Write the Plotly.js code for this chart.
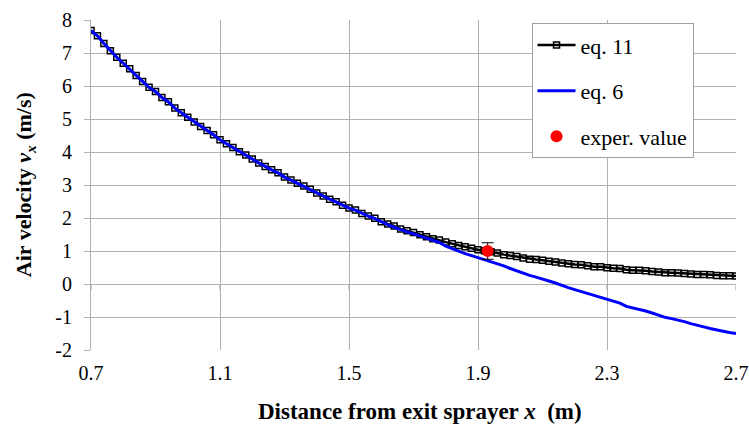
<!DOCTYPE html>
<html>
<head>
<meta charset="utf-8">
<script src="https://cdn.plot.ly/plotly-3.0.1.min.js"></script>
<style>
html,body{margin:0;padding:0;background:#fff;}
#chart{width:749px;height:439px;}
</style>
</head>
<body>
<div id="chart"></div>
<script>
// x positions (m), step 0.02 from 0.70 to 2.70
const distance = [
0.70,0.72,0.74,0.76,0.78,0.80,0.82,0.84,0.86,0.88,
0.90,0.92,0.94,0.96,0.98,1.00,1.02,1.04,1.06,1.08,
1.10,1.12,1.14,1.16,1.18,1.20,1.22,1.24,1.26,1.28,
1.30,1.32,1.34,1.36,1.38,1.40,1.42,1.44,1.46,1.48,
1.50,1.52,1.54,1.56,1.58,1.60,1.62,1.64,1.66,1.68,
1.70,1.72,1.74,1.76,1.78,1.80,1.82,1.84,1.86,1.88,
1.90,1.92,1.94,1.96,1.98,2.00,2.02,2.04,2.06,2.08,
2.10,2.12,2.14,2.16,2.18,2.20,2.22,2.24,2.26,2.28,
2.30,2.32,2.34,2.36,2.38,2.40,2.42,2.44,2.46,2.48,
2.50,2.52,2.54,2.56,2.58,2.60,2.62,2.64,2.66,2.68,
2.70];

// eq. 11 (m/s)
const eq11 = [
7.68,7.52,7.29,7.07,6.87,6.69,6.52,6.32,6.14,5.96,
5.83,5.65,5.52,5.33,5.19,5.05,4.91,4.77,4.65,4.52,
4.37,4.25,4.14,4.01,3.91,3.79,3.67,3.56,3.46,3.37,
3.24,3.15,3.05,2.97,2.87,2.76,2.67,2.57,2.49,2.39,
2.30,2.24,2.14,2.06,1.99,1.89,1.82,1.76,1.67,1.61,
1.56,1.49,1.43,1.37,1.33,1.27,1.22,1.17,1.13,1.08,
1.04,1.01,0.98,0.94,0.89,0.86,0.83,0.79,0.75,0.74,
0.72,0.69,0.67,0.64,0.61,0.59,0.58,0.55,0.52,0.52,
0.49,0.48,0.47,0.43,0.42,0.42,0.40,0.38,0.36,0.34,
0.34,0.33,0.32,0.30,0.29,0.29,0.28,0.26,0.25,0.25,
0.24];

// eq. 6 (m/s)
const eq6 = [
7.68,7.52,7.29,7.07,6.87,6.69,6.52,6.32,6.14,5.96,
5.83,5.65,5.52,5.33,5.19,5.05,4.91,4.77,4.65,4.52,
4.37,4.25,4.14,4.01,3.91,3.79,3.67,3.56,3.46,3.37,
3.24,3.15,3.05,2.97,2.87,2.76,2.67,2.57,2.49,2.39,
2.30,2.24,2.14,2.06,1.98,1.88,1.80,1.72,1.64,1.58,
1.52,1.45,1.38,1.32,1.26,1.15,1.07,1.00,0.92,0.86,
0.80,0.72,0.67,0.60,0.55,0.47,0.40,0.31,0.26,0.21,
0.14,0.09,0.03,-0.05,-0.11,-0.17,-0.23,-0.30,-0.35,-0.42,
-0.48,-0.53,-0.58,-0.68,-0.72,-0.77,-0.82,-0.88,-0.95,-1.01,
-1.05,-1.09,-1.14,-1.20,-1.26,-1.30,-1.35,-1.38,-1.43,-1.47,
-1.50];

// experimental value
const experX = [1.93];
const experY = [1.0];
const experErr = [0.25];

// tick labels
const xTickVals = [0.7, 1.1, 1.5, 1.9, 2.3, 2.7];
const xTickText = ['0.7', '1.1', '1.5', '1.9', '2.3', '2.7'];
const yTickVals = [-2, -1, 0, 1, 2, 3, 4, 5, 6, 7, 8];
const yTickText = ['-2', '-1', '0', '1', '2', '3', '4', '5', '6', '7', '8'];

const xTitle = '<b>Distance from exit sprayer <i>x</i>  (m)</b>';
const yTitle = '<b>Air velocity <i>v<sub>x</sub></i> (m/s)</b>';

const FONT = 'Liberation Serif';
const GRID = '#b0b0b0';

const traces = [
  {
    x: distance, y: eq11, name: 'eq. 11', type: 'scatter', mode: 'lines+markers',
    line: {color: '#000000', width: 2.5},
    marker: {symbol: 'square-open', size: 6, color: '#000000', line: {width: 1.5, color: '#000000'}},
    legendgroup: 'a'
  },
  {
    x: distance, y: eq6, name: 'eq. 6', type: 'scatter', mode: 'lines',
    line: {color: '#0000ff', width: 3},
    legendgroup: 'b'
  },
  {
    x: experX, y: experY, name: 'exper. value', type: 'scatter', mode: 'markers',
    marker: {symbol: 'circle', size: 12, color: '#ff0000'},
    error_y: {type: 'data', array: experErr, visible: true, color: '#000000', thickness: 1, width: 6},
    legendgroup: 'c'
  }
];

// small tick marks on the horizontal axis crossing at y = 0
const zeroTicks = xTickVals.map(v => ({
  type: 'line', xref: 'x', yref: 'y', x0: v, x1: v, y0: 0, y1: -0.18,
  line: {color: '#909090', width: 1}, layer: 'below'
}));

const layout = {
  width: 749, height: 439,
  margin: {l: 91, r: 13, t: 20, b: 89},
  paper_bgcolor: '#ffffff', plot_bgcolor: '#ffffff',
  showlegend: true,
  legend: {
    x: 0.683, y: 0.99, xanchor: 'left', yanchor: 'top',
    bgcolor: '#ffffff', bordercolor: '#a0a0a0', borderwidth: 1,
    font: {family: FONT, size: 22, color: '#000000'},
    traceorder: 'grouped', tracegroupgap: 14, itemwidth: 38
  },
  xaxis: {
    range: [0.7, 2.7], tickvals: xTickVals, ticktext: xTickText,
    showgrid: true, gridcolor: GRID, gridwidth: 1,
    zeroline: false, showline: false, ticks: '',
    ticklabelstandoff: 9,
    tickfont: {family: FONT, size: 20, color: '#000000'},
    automargin: false
  },
  yaxis: {
    range: [-2, 8], tickvals: yTickVals, ticktext: yTickText,
    showgrid: true, gridcolor: GRID, gridwidth: 1,
    zeroline: false, showline: true, linecolor: GRID, linewidth: 1,
    ticks: 'outside', ticklen: 6, tickcolor: GRID,
    ticklabelstandoff: 8,
    tickfont: {family: FONT, size: 20, color: '#000000'},
    automargin: false
  },
  annotations: [
    {text: xTitle, xref: 'paper', yref: 'paper', x: 0.51, y: -0.185, xanchor: 'center', yanchor: 'middle',
     showarrow: false, font: {family: FONT, size: 23, color: '#000000'}},
    {text: yTitle, xref: 'paper', yref: 'paper', x: -0.102, y: 0.5, xanchor: 'center', yanchor: 'middle',
     textangle: -90, showarrow: false, font: {family: FONT, size: 22, color: '#000000'}}
  ],
  shapes: zeroTicks
};

Plotly.newPlot('chart', traces, layout, {staticPlot: true});
</script>
</body>
</html>
